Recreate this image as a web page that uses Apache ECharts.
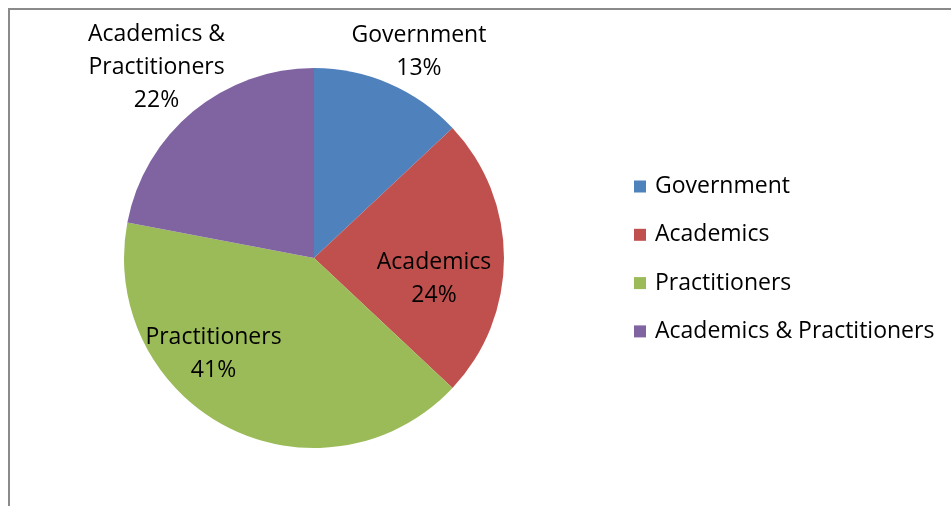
<!DOCTYPE html>
<html>
<head>
<meta charset="utf-8">
<script src="https://cdn.jsdelivr.net/npm/echarts@6/dist/echarts.min.js"></script>
<style>
  html, body { margin: 0; padding: 0; background: #fff; overflow: hidden; }
  #frame { position: absolute; left: 8px; top: 8px; width: 960px; height: 520px;
           border-left: 2px solid #8a8a8a; border-top: 2px solid #8a8a8a; }
  #chart { position: absolute; left: 0; top: 0; width: 951px; height: 506px; }
</style>
</head>
<body>
<div id="frame"></div>
<div id="chart"></div>
<script>
// Respondent groups and their shares (percent)
const categories = ['Government', 'Academics', 'Practitioners', 'Academics & Practitioners'];
const shares = [13, 24, 41, 22];
const colors = ['#4F81BD', '#C0504D', '#9BBB59', '#8064A2'];
// Label offsets from the default inside position of each slice
const labelOffsets = [[66, -116], [22, 21], [-56, 9], [-95, -115]];

const FONT = '"Open Sans", sans-serif';

const chart = echarts.init(document.getElementById('chart'), null, { renderer: 'canvas' });
chart.setOption({
  animation: false,
  color: colors,
  legend: {
    orient: 'vertical',
    left: 629,
    top: 170,
    itemWidth: 12,
    itemHeight: 12,
    itemGap: 25.3,
    icon: 'rect',
    textStyle: { fontFamily: FONT, fontSize: 23, lineHeight: 20, color: '#000', padding: [0, 0, 0, 4] },
    data: categories
  },
  series: [{
    type: 'pie',
    center: [314, 258],
    radius: [0, 190],
    startAngle: 90,
    clockwise: true,
    avoidLabelOverlap: false,
    itemStyle: { borderWidth: 0 },
    label: {
      show: true,
      position: 'inside',
      fontFamily: FONT,
      fontSize: 23,
      lineHeight: 33,
      color: '#000',
      formatter: p => {
        const name = p.name === 'Academics & Practitioners' ? 'Academics &\nPractitioners' : p.name;
        return name + '\n' + p.value + '%';
      }
    },
    labelLine: { show: false },
    data: categories.map((c, i) => ({
      name: c,
      value: shares[i],
      label: { offset: labelOffsets[i] }
    }))
  }]
});
</script>
</body>
</html>
